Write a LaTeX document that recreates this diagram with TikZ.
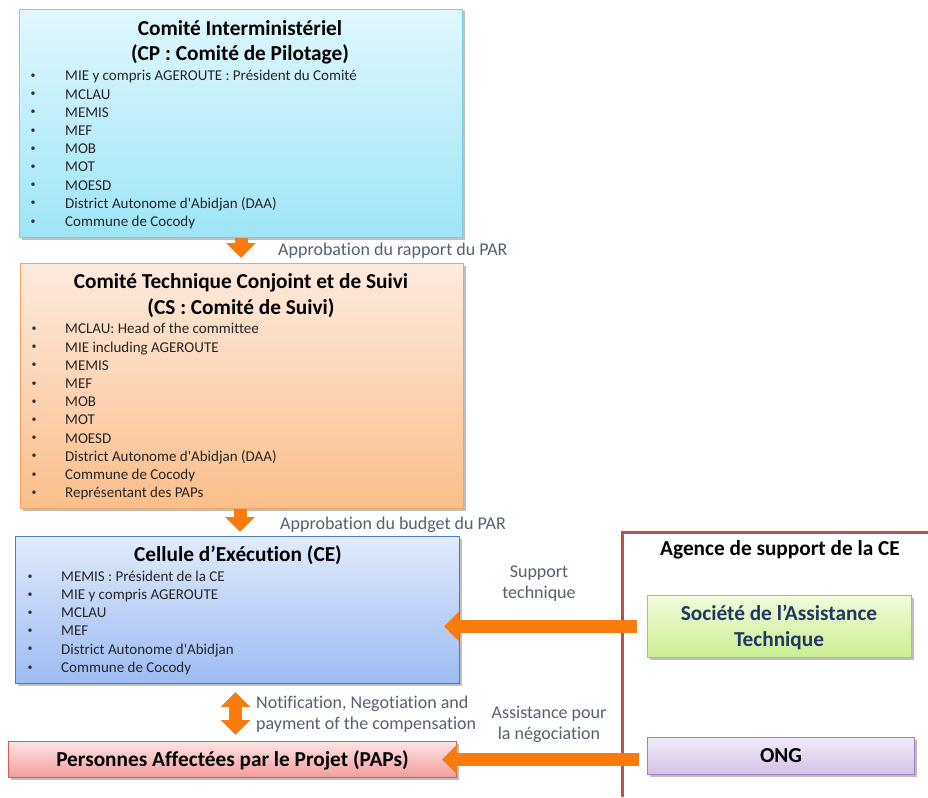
\documentclass[tikz,border=0pt]{standalone}
\usepackage{fontspec}
\setmainfont{Carlito}[Ligatures={NoCommon}]
\usetikzlibrary{positioning, arrows.meta, shadows}

% couleurs des boites
\definecolor{cpHaut}{HTML}{E0F7FD}
\definecolor{cpBas}{HTML}{9EE5F7}
\definecolor{cpBord}{HTML}{82CCE0}
\definecolor{csHaut}{HTML}{FDEADF}
\definecolor{csBas}{HTML}{FBBE8A}
\definecolor{csBord}{HTML}{F3A262}
\definecolor{ceHaut}{HTML}{E0EAFB}
\definecolor{ceBas}{HTML}{9DBBF3}
\definecolor{ceBord}{HTML}{4A7EBB}
\definecolor{papsHaut}{HTML}{FDE4E4}
\definecolor{papsBas}{HTML}{F49C9C}
\definecolor{papsBord}{HTML}{D65A57}
\definecolor{satHaut}{HTML}{F2FBDB}
\definecolor{satBas}{HTML}{CCEE92}
\definecolor{satBord}{HTML}{A4C765}
\definecolor{ongHaut}{HTML}{F2EBF8}
\definecolor{ongBas}{HTML}{D3C1E6}
\definecolor{ongBord}{HTML}{9A83C0}
\definecolor{orangeFleche}{HTML}{F97B0D}
\definecolor{cadreRouge}{HTML}{C0504D}
\definecolor{grisLegende}{HTML}{546170}
\definecolor{marine}{HTML}{1F3864}

\begin{document}
\begin{tikzpicture}[x=1pt, y=-1pt,
  boite/.style={draw, line width=1pt, inner sep=0pt, anchor=north west, shading=axis,
    drop shadow={shadow xshift=2pt, shadow yshift=-2pt, opacity=.25, fill=black}},
  titre/.style={font=\fontsize{21.3}{25}\selectfont\bfseries, inner sep=0pt, text height=13.5pt, text depth=0pt},
  membre/.style={font=\fontsize{15}{18}\selectfont, text=black!85, inner sep=0pt, anchor=west, text height=9.7pt, text depth=0pt},
  puce/.style={font=\fontsize{10}{12}\selectfont, text=black!80, inner sep=0pt, text height=5pt, text depth=0pt},
  legende/.style={font=\fontsize{18}{21}\selectfont, text=grisLegende, inner sep=0pt, text height=11.6pt, text depth=0pt},
  fleche/.style={draw=orangeFleche, line width=13pt, -{Triangle[width=29pt, length=15pt]}},
  pointe/.tip={Triangle[width=29pt, length=15pt]},
]
\useasboundingbox (0,0) rectangle (928,797);

% Comite de pilotage
\node[boite, top color=cpHaut, bottom color=cpBas, draw=cpBord, minimum width=443pt, minimum height=228pt] (cp) at (19,9) {};
\node[titre] (cp-t1) at (240,29) {Comité Interministériel};
\node[titre] (cp-t2) at (240,54) {(CP : Comité de Pilotage)};
\foreach \nom [count=\i] in {MIE y compris AGEROUTE : Président du Comité, MCLAU, MEMIS, MEF, MOB, MOT, MOESD, District Autonome d\textquotesingle Abidjan (DAA), Commune de Cocody} {
  \node[puce] (cp-b\i) at (33,{76+18.2*(\i-1)}) {\textbullet};
  \node[membre] (cp-m\i) at (65,{76+18.2*(\i-1)}) {\nom};
}

% Comite de suivi
\node[boite, top color=csHaut, bottom color=csBas, draw=csBord, minimum width=443pt, minimum height=245pt] (cs) at (20,263) {};
\node[titre] (cs-t1) at (241,282) {Comité Technique Conjoint et de Suivi};
\node[titre] (cs-t2) at (241,308) {(CS : Comité de Suivi)};
\foreach \nom [count=\i] in {MCLAU: Head of the committee, MIE including AGEROUTE, MEMIS, MEF, MOB, MOT, MOESD, District Autonome d\textquotesingle Abidjan (DAA), Commune de Cocody, Représentant des PAPs} {
  \node[puce] (cs-b\i) at (34,{329+18.2*(\i-1)}) {\textbullet};
  \node[membre] (cs-m\i) at (65,{329+18.2*(\i-1)}) {\nom};
}

% Cellule d'execution
\node[boite, top color=ceHaut, bottom color=ceBas, draw=ceBord, minimum width=444pt, minimum height=147pt] (ce) at (15,536) {};
\node[titre] (ce-t1) at (238,555) {Cellule d’Exécution (CE)};
\foreach \nom [count=\i] in {MEMIS : Président de la CE, MIE y compris AGEROUTE, MCLAU, MEF, District Autonome d\textquotesingle Abidjan, Commune de Cocody} {
  \node[puce] (ce-b\i) at (30,{576.5+18.2*(\i-1)}) {\textbullet};
  \node[membre] (ce-m\i) at (61,{576.5+18.2*(\i-1)}) {\nom};
}

% PAPs
\node[boite, top color=papsHaut, bottom color=papsBas, draw=papsBord, minimum width=448pt, minimum height=36pt] (paps) at (8,741) {};
\node[titre] (paps-t) at (paps.center) {Personnes Affectées par le Projet (PAPs)};

% agences de support
\draw[cadreRouge, line width=3pt] (622,797) -- (622,532) -- (928,532);
\node[titre] (agence) at (780,549) {Agence de support de la CE};
\node[boite, top color=satHaut, bottom color=satBas, draw=satBord, minimum width=264pt, minimum height=62pt] (sat) at (647,595) {};
\node[titre, text=marine] (sat-t1) at (779,614) {Société de l’Assistance};
\node[titre, text=marine] (sat-t2) at (779,640) {Technique};
\node[boite, top color=ongHaut, bottom color=ongBas, draw=ongBord, minimum width=267pt, minimum height=37pt] (ong) at (647,737) {};
\node[titre] (ong-t) at (ong.center) {ONG};

% fleches
\draw[fleche, shorten >=5pt] (cp.south) -- (cp.south |- cs.north);
\draw[fleche, shorten >=4pt] ([xshift=-2pt]cs.south) -- ([xshift=-2pt]cs.south |- ce.north);
\draw[fleche, pointe-pointe, shorten <=8pt, shorten >=6pt] ([xshift=-2pt]ce.south) -- ([xshift=-2pt]ce.south |- paps.north);
\draw[fleche, shorten <=10pt, shorten >=-16pt] (sat.west) -- (sat.west -| ce.east);
\draw[fleche, shorten <=8pt, shorten >=-15pt] (paps.east -| ong.west) -- (paps.east);

% legendes
\node[legende, anchor=west] (rapport) at (278,250) {Approbation du rapport du PAR};
\node[legende, anchor=west] (budget) at (280,524) {Approbation du budget du PAR};
\node[legende] (support1) at (539,572) {Support};
\node[legende] (support2) at (539,593) {technique};
\node[legende, anchor=west] (notif1) at (256,703) {Notification, Negotiation and};
\node[legende, anchor=west] (notif2) at (256,724) {payment of the compensation};
\node[legende] (assist1) at (549,713) {Assistance pour};
\node[legende] (assist2) at (549,734) {la négociation};
\end{tikzpicture}
\end{document}
